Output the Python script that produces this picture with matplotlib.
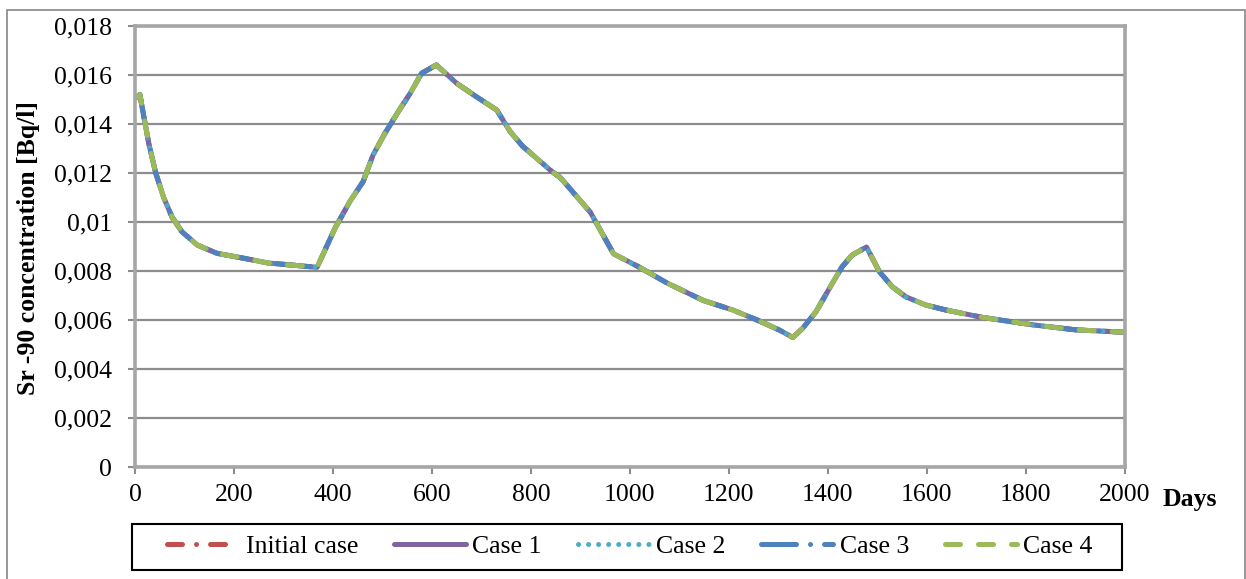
import matplotlib
matplotlib.use("Agg")
import matplotlib.pyplot as plt
from matplotlib.patches import Rectangle
from matplotlib.ticker import MultipleLocator, FuncFormatter

# days and Sr-90 concentration [Bq/l] (the five cases overlap)
days = [0, 10, 18, 28, 42, 58, 75, 95, 126, 166, 220, 268, 368, 404, 434,
        461, 481, 505, 532, 556, 579, 609, 650, 690, 731, 758, 783, 840,
        860, 920, 967, 1015, 1076, 1148, 1209, 1257, 1302, 1329, 1349, 1376,
        1409, 1429, 1449, 1478, 1504, 1530, 1557, 1598, 1638, 1714, 1815,
        1900, 2000]
conc_initial = [0.01505, 0.0152, 0.0143, 0.0132, 0.0120, 0.0110, 0.0102,
                0.0096, 0.00906, 0.00872, 0.00852, 0.00833, 0.00815, 0.00974,
                0.01083, 0.01165, 0.01273, 0.01362, 0.0145, 0.01525, 0.01607,
                0.01641, 0.01566, 0.01511, 0.01457, 0.01369, 0.0131, 0.0121,
                0.0118, 0.0104, 0.0087, 0.0082, 0.0075, 0.0068, 0.0064,
                0.0060, 0.00559, 0.00529, 0.00566, 0.00634, 0.0075, 0.00818,
                0.00865, 0.00898, 0.00797, 0.00736, 0.00695, 0.00661,
                0.00641, 0.0061, 0.0058, 0.0056, 0.0055]
conc_case1 = list(conc_initial)
conc_case2 = list(conc_initial)
conc_case3 = list(conc_initial)
conc_case4 = list(conc_initial)

labels = ["Initial case", "Case 1", "Case 2", "Case 3", "Case 4"]
series = [conc_initial, conc_case1, conc_case2, conc_case3, conc_case4]
colors = ["#C0504D", "#8064A2", "#4BACC6", "#4F81BD", "#9BBB59"]
styles = [(0, (3, 2.8, 0.01, 2.8)), "-", (0, (0.01, 2.0)),
          (0, (7, 2.8, 0.01, 2.8)), (0, (3, 3.6))]

FS = 18.5
plt.rcParams["font.family"] = ["Liberation Serif", "DejaVu Serif"]

fig = plt.figure(figsize=(12.46, 5.79), dpi=100)
ax = fig.add_axes([0.1083, 0.1934, 0.7945, 0.7617])

for vals, lab, c, ls in zip(series, labels, colors, styles):
    ax.plot(days, vals, color=c, linestyle=ls, linewidth=3.6, label=lab,
            solid_capstyle="round", dash_capstyle="round",
            solid_joinstyle="round")

ax.set_xlim(0, 2000)
ax.set_ylim(0, 0.018)
ax.xaxis.set_major_locator(MultipleLocator(200))
ax.yaxis.set_major_locator(MultipleLocator(0.002))
ax.yaxis.set_major_formatter(
    FuncFormatter(lambda v, p: f"{round(v, 3):g}".replace(".", ",")))
ax.grid(axis="y", color="#8C8C8C", linewidth=1.6)
ax.set_axisbelow(True)
for s in ax.spines.values():
    s.set_color("#A6A6A6")
    s.set_linewidth(2.6)
ax.tick_params(axis="both", direction="out", length=5, width=1.5,
               color="#8C8C8C", labelsize=FS)
ax.tick_params(axis="x", pad=7.5)
ax.tick_params(axis="y", pad=11.5)

fig.text(29 / 1246, 0.572, "Sr -90 concentration [Bq/l]", rotation=90,
         fontsize=FS, fontweight="bold", ha="center", va="center")
fig.text(1163 / 1246, 0.138, "Days", fontsize=FS, fontweight="bold",
         ha="left", va="center")

handles, labs = ax.get_legend_handles_labels()
fig.legend(handles, labs, loc="center", bbox_to_anchor=(0.5056, 0.0553),
           ncol=5, fontsize=FS, frameon=False, handlelength=2.8,
           handletextpad=0.25, columnspacing=1.4, borderpad=0.2)
# legend frame and the outer chart border
fig.patches.append(Rectangle((0.1059, 0.0155), 0.7945, 0.0794,
                             transform=fig.transFigure, fill=False,
                             edgecolor="black", linewidth=1.5))
fig.patches.append(Rectangle((0.0056, -0.01), 0.9934, 0.9927,
                             transform=fig.transFigure, fill=False,
                             edgecolor="#868686", linewidth=1.2))

fig.savefig("out.png", dpi=100)
